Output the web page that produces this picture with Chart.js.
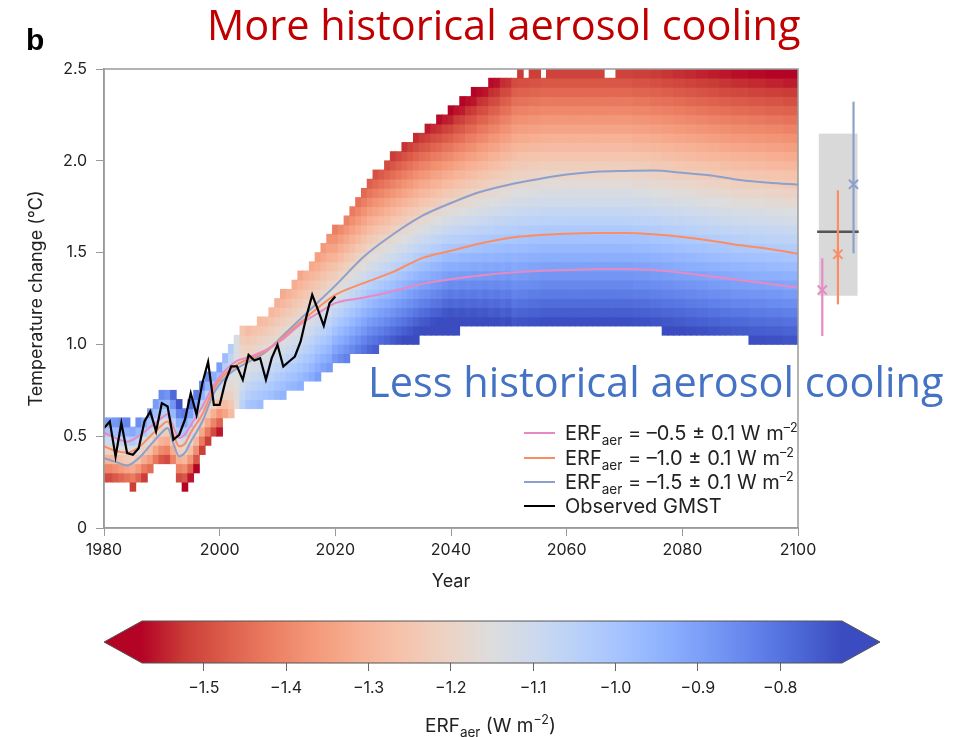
<!DOCTYPE html>
<html>
<head>
<meta charset="utf-8">
<script src="https://cdn.jsdelivr.net/npm/chart.js@4.4.1/dist/chart.umd.min.js"></script>
<style>
  body { margin: 0; background: #fff; }
  #page { position: relative; width: 955px; height: 737px; overflow: hidden; font-family: Inter, sans-serif; color: #222; }
  canvas { position: absolute; left: 0; }
  #main { top: 0; }
  #cbar { top: 600px; }
  .big { position: absolute; font-family: "Open Sans", sans-serif; font-size: 41.5px; line-height: 40px; white-space: nowrap; }
  .panel { position: absolute; left: 26px; top: 25px; font-family: "Liberation Sans", Arial, sans-serif; font-weight: bold; font-size: 30px; line-height: 30px; color: #000; }
  .leg { position: absolute; left: 565px; font-size: 20px; line-height: 20px; white-space: nowrap; color: #222; }
  .swatch { position: absolute; left: 524px; width: 31px; height: 2px; }
  .sub { font-size: 13.5px; position: relative; top: 5px; }
  .sup { font-size: 12.5px; position: relative; top: -8px; }
  .cbtitle { position: absolute; left: 425px; top: 716px; font-size: 19px; line-height: 19px; white-space: nowrap; color: #222; }
</style>
</head>
<body>
<div id="page">
  <canvas id="main" width="955" height="600"></canvas>
  <canvas id="cbar" width="955" height="137"></canvas>

  <div class="panel">b</div>
  <div class="big" style="left:207px; top:4px; color:#c00000;">More historical aerosol cooling</div>
  <div class="big" style="left:368px; top:361px; color:#4472c4;">Less historical aerosol cooling</div>

  <div class="swatch" style="top:432px; background:#e78ac3;"></div>
  <div class="leg" style="top:423px;">ERF<span class="sub">aer</span> = –0.5 ± 0.1 W m<span class="sup">–2</span></div>
  <div class="swatch" style="top:457px; background:#fc8d62;"></div>
  <div class="leg" style="top:448px;">ERF<span class="sub">aer</span> = –1.0 ± 0.1 W m<span class="sup">–2</span></div>
  <div class="swatch" style="top:481px; background:#8da0cb;"></div>
  <div class="leg" style="top:472px;">ERF<span class="sub">aer</span> = –1.5 ± 0.1 W m<span class="sup">–2</span></div>
  <div class="swatch" style="top:505px; background:#000;"></div>
  <div class="leg" style="top:496px;">Observed GMST</div>

  <div class="cbtitle">ERF<span class="sub">aer</span> (W m<span class="sup">−2</span>)</div>
</div>

<script>
// ---- values ----
const firstYear = 1980;
const lastYear = 2100;
const binWidth = 0.05; // height of one heatmap cell, °C

// lowest / highest cell edge of each yearly column, as [value, number of years]
const bandLowRuns = [[0.25,5],[0.20,1],[0.25,2],[0.30,1],[0.35,4],[0.25,1],[0.20,1],[0.25,1],[0.30,1],
  [0.40,1],[0.45,1],[0.50,2],[0.60,2],[0.65,5],[0.70,4],[0.75,3],[0.80,3],[0.85,2],[0.90,3],[0.95,5],
  [1.00,7],[1.05,7],[1.10,35],[1.05,15],[1.00,9]];
const bandHighRuns = [[0.60,5],[0.55,1],[0.60,2],[0.65,1],[0.70,1],[0.75,3],[0.70,1],[0.65,1],[0.70,1],
  [0.75,1],[0.80,1],[0.85,2],[0.90,1],[0.95,1],[1.00,1],[1.05,1],[1.10,3],[1.15,2],[1.20,1],[1.25,1],
  [1.30,2],[1.35,1],[1.40,2],[1.45,1],[1.50,1],[1.55,1],[1.60,1],[1.65,2],[1.70,1],[1.75,1],[1.80,1],
  [1.85,1],[1.90,1],[1.95,2],[2.00,1],[2.05,2],[2.10,2],[2.15,2],[2.20,2],[2.25,2],[2.30,2],[2.35,2],
  [2.40,3],[2.45,5],[2.50,1],[2.45,1],[2.50,2],[2.45,1],[2.50,10],[2.45,2],[2.50,32]];

// temperature (°C) where a column's mean ERF_aer is the grey middle of the colour bar, 1980..2100
const midTemp = [
  0.45,0.45,0.44,0.43,0.42,0.41,0.43,0.46,0.49,0.53,
  0.56,0.57,0.52,0.46,0.45,0.49,0.55,0.62,0.67,0.71,
  0.74,0.78,0.81,0.84,0.87,0.89,0.91,0.93,0.95,0.97,
  1.00,1.02,1.05,1.07,1.10,1.13,1.16,1.19,1.22,1.25,
  1.28,1.31,1.34,1.37,1.40,1.43,1.46,1.48,1.50,1.52,
  1.54,1.56,1.58,1.60,1.62,1.64,1.65,1.67,1.68,1.70,
  1.71,1.72,1.73,1.74,1.75,1.76,1.77,1.78,1.79,1.80,
  1.81,1.82,1.83,1.83,1.84,1.84,1.85,1.85,1.85,1.85,
  1.85,1.85,1.85,1.85,1.85,1.85,1.85,1.85,1.85,1.85,
  1.85,1.85,1.84,1.84,1.84,1.83,1.83,1.82,1.82,1.81,
  1.81,1.80,1.80,1.79,1.79,1.78,1.78,1.77,1.77,1.76,
  1.76,1.76,1.75,1.75,1.75,1.74,1.74,1.74,1.73,1.73,
  1.73];
// change of mean ERF_aer with temperature inside a column (W m-2 per °C), as runs
const erfGradRuns = [[2.0,8],[1.8,5],[1.9,7],[1.9,1],[1.2,1],[0.7,1],[0.1,1],[-0.5,1],[-0.68,8],
  [-0.66,4],[-0.70,3],[-0.77,21],[-0.74,2],[-0.71,2],[-0.68,2],[-0.65,2],[-0.62,2],[-0.58,50]];

// ensemble mean warming for the three ERF_aer groups
const curveYears = [1980,1982,1984,1986,1988,1990,1991,1992,1993,1994,1995,1997,1999,2001,2003,2005,2008,
  2011,2014,2017,2020,2025,2030,2035,2040,2045,2050,2055,2060,2065,2070,2075,2080,2085,2090,2095,2100];
const meanErf05 = [0.52,0.49,0.47,0.50,0.55,0.60,0.62,0.55,0.49,0.51,0.56,0.66,0.78,0.86,0.91,0.93,0.97,
  1.03,1.11,1.17,1.225,1.255,1.29,1.33,1.355,1.375,1.39,1.40,1.405,1.41,1.41,1.405,1.39,1.37,1.35,1.33,1.31];
const meanErf10 = [0.445,0.42,0.41,0.44,0.50,0.56,0.58,0.51,0.445,0.46,0.52,0.62,0.76,0.84,0.89,0.92,0.965,
  1.04,1.12,1.20,1.27,1.335,1.395,1.47,1.51,1.55,1.58,1.595,1.603,1.607,1.607,1.60,1.585,1.565,1.54,1.52,1.494];
const meanErf15 = [0.38,0.36,0.34,0.38,0.45,0.52,0.545,0.46,0.39,0.41,0.47,0.58,0.735,0.82,0.87,0.905,0.96,
  1.05,1.14,1.23,1.32,1.48,1.60,1.70,1.77,1.83,1.87,1.90,1.925,1.94,1.945,1.947,1.935,1.92,1.895,1.88,1.87];

// observed GMST, 1980..2020
const obsStart = 1980;
const obsGmst = [0.544,0.58,0.39,0.572,0.408,0.399,0.435,0.58,0.635,0.526,
  0.68,0.662,0.481,0.508,0.59,0.735,0.617,0.789,0.905,0.671,
  0.671,0.80,0.88,0.88,0.807,0.943,0.912,0.925,0.807,0.925,
  0.998,0.88,0.907,0.934,1.016,1.152,1.27,1.188,1.101,1.225,1.261];

// 2100 ranges drawn right of the axis
const rangeX = [2104.2, 2106.9, 2109.6];
const rangeCentral = [1.296, 1.491, 1.872];
const rangeLow = [1.046, 1.218, 1.496];
const rangeHigh = [1.469, 1.839, 2.322];
const obsBoxX = [2103.6, 2110.3];
const obsBoxY = [1.265, 2.148];
const obsLineX = [2103.3, 2110.5];
const obsLineY = 1.614;

// colour bar
const cbMin = -1.575;
const cbMax = -0.725;
const cbTicks = [-1.5, -1.4, -1.3, -1.2, -1.1, -1.0, -0.9, -0.8];

// ---- colours ----
const pink = '#e78ac3', orange = '#fc8d62', blue = '#8da0cb';
const coolwarm = [[59,76,192],[77,104,215],[98,130,234],[119,154,246],[141,176,254],[163,194,255],
  [184,208,249],[204,217,238],[221,221,221],[236,211,197],[245,196,173],[247,177,149],[244,154,123],
  [236,127,99],[222,96,77],[203,62,56],[180,4,38]];

function coolwarmAt(t) {
  t = Math.min(1, Math.max(0, t));
  const p = t * (coolwarm.length - 1);
  const i = Math.min(coolwarm.length - 2, Math.floor(p));
  const f = p - i;
  const c = coolwarm[i].map((v, k) => Math.round(v + (coolwarm[i + 1][k] - v) * f));
  return `rgb(${c[0]},${c[1]},${c[2]})`;
}
// more negative ERF is red, like the colour bar
function erfColor(erf) {
  return coolwarmAt((cbMax - erf) / (cbMax - cbMin));
}

function expand(runs) {
  const out = [];
  runs.forEach(([v, n]) => { for (let i = 0; i < n; i++) out.push(v); });
  return out;
}

const bandLow = expand(bandLowRuns);
const bandHigh = expand(bandHighRuns);
const erfGrad = expand(erfGradRuns);
const nYears = lastYear - firstYear + 1;
if (bandLow.length !== nYears || bandHigh.length !== nYears || erfGrad.length !== nYears || midTemp.length !== nYears) {
  console.warn('column arrays have wrong length');
}

// heatmap cells: one floating bar per (year, temperature bin)
const cells = [];
const cellColors = [];
for (let i = 0; i < nYears; i++) {
  const nBins = Math.round((bandHigh[i] - bandLow[i]) / binWidth);
  for (let k = 0; k < nBins; k++) {
    const b0 = bandLow[i] + k * binWidth;
    const b1 = b0 + binWidth;
    const erf = -1.15 + erfGrad[i] * ((b0 + b1) / 2 - midTemp[i]);
    cells.push({ x: firstYear + i, y: [b0, b1] });
    cellColors.push(erfColor(erf));
  }
}

const toXY = (xs, ys) => xs.map((x, i) => ({ x: x, y: ys[i] }));

Chart.defaults.font.family = 'Inter, sans-serif';
Chart.defaults.color = '#222';

// frame round the plot area
const framePlugin = {
  id: 'frame',
  afterDatasetsDraw(chart) {
    const { ctx, chartArea: a } = chart;
    ctx.save();
    ctx.strokeStyle = '#9a9a9a';
    ctx.lineWidth = 1.5;
    ctx.strokeRect(a.left, a.top, a.right - a.left, a.bottom - a.top);
    ctx.restore();
  }
};

// grey box of the observation-constrained 2100 range
const obsBoxPlugin = {
  id: 'obsBox',
  beforeDatasetsDraw(chart) {
    const { ctx, scales: { x, y } } = chart;
    const l = x.getPixelForValue(obsBoxX[0]), r = x.getPixelForValue(obsBoxX[1]);
    const t = y.getPixelForValue(obsBoxY[1]), b = y.getPixelForValue(obsBoxY[0]);
    ctx.save();
    ctx.fillStyle = '#d9d9d9';
    ctx.fillRect(l, t, r - l, b - t);
    ctx.restore();
  }
};

const rangeColors = [pink, orange, blue];

// central 2100 estimates (outside the plot area, where Chart.js skips points)
const rangeMarkPlugin = {
  id: 'rangeMarks',
  afterDatasetsDraw(chart) {
    const { ctx, scales: { x, y } } = chart;
    ctx.save();
    ctx.lineWidth = 2;
    rangeX.forEach((xv, i) => {
      const px = x.getPixelForValue(xv), py = y.getPixelForValue(rangeCentral[i]);
      ctx.strokeStyle = rangeColors[i];
      ctx.fillStyle = rangeColors[i];
      if (Chart.helpers && Chart.helpers.drawPoint) {
        Chart.helpers.drawPoint(ctx, { pointStyle: 'crossRot', radius: 6.5, borderWidth: 2, rotation: 0 }, px, py);
      } else {
        const d = 4.6;
        ctx.beginPath();
        ctx.moveTo(px - d, py - d); ctx.lineTo(px + d, py + d);
        ctx.moveTo(px - d, py + d); ctx.lineTo(px + d, py - d);
        ctx.stroke();
      }
    });
    ctx.restore();
  }
};

const rangeSets = rangeX.map((xv, i) => ({
  type: 'line', data: [{ x: xv, y: rangeLow[i] }, { x: xv, y: rangeHigh[i] }],
  borderColor: rangeColors[i], borderWidth: 2.2, pointRadius: 0, clip: false, order: 1
}));

new Chart(document.getElementById('main'), {
  type: 'bar',
  data: {
    datasets: [
      {
        label: 'ensemble members', data: cells, backgroundColor: cellColors,
        borderWidth: 0, barPercentage: 1, categoryPercentage: 1, grouped: false,
        inflateAmount: 0.4, clip: 0, order: 10
      },
      { type: 'line', label: 'ERF -0.5', data: toXY(curveYears, meanErf05), borderColor: pink, borderWidth: 2,
        pointRadius: 0, cubicInterpolationMode: 'monotone', order: 4 },
      { type: 'line', label: 'ERF -1.0', data: toXY(curveYears, meanErf10), borderColor: orange, borderWidth: 2,
        pointRadius: 0, cubicInterpolationMode: 'monotone', order: 4 },
      { type: 'line', label: 'ERF -1.5', data: toXY(curveYears, meanErf15), borderColor: blue, borderWidth: 2,
        pointRadius: 0, cubicInterpolationMode: 'monotone', order: 4 },
      { type: 'line', label: 'Observed GMST', data: obsGmst.map((v, i) => ({ x: obsStart + i, y: v })),
        borderColor: '#000', borderWidth: 2.2, pointRadius: 0, order: 3 },
      { type: 'line', data: [{ x: obsLineX[0], y: obsLineY }, { x: obsLineX[1], y: obsLineY }],
        borderColor: '#555', borderWidth: 2.5, pointRadius: 0, clip: false, order: 2 },
      ...rangeSets
    ]
  },
  options: {
    responsive: false,
    animation: false,
    events: [],
    layout: { padding: { left: 0, right: 157, top: 69, bottom: 0 } },
    plugins: { legend: { display: false }, tooltip: { enabled: false } },
    scales: {
      x: {
        type: 'linear', min: firstYear, max: lastYear, offset: false,
        afterFit: s => { s.height = 72; },
        ticks: { stepSize: 20, padding: 5, font: { size: 16 }, color: '#222', callback: v => String(v) },
        grid: { display: true, drawOnChartArea: false, drawTicks: true, tickLength: 8, offset: false, color: '#9a9a9a' },
        border: { display: true, color: '#9a9a9a', width: 1.5 },
        title: { display: true, text: 'Year', font: { size: 18 }, color: '#222', padding: { top: 0, bottom: 8 } }
      },
      y: {
        min: 0, max: 2.5,
        afterFit: s => { s.width = 104; },
        ticks: { stepSize: 0.5, padding: 9, font: { size: 16 }, color: '#222',
          callback: v => (v === 0 ? '0' : v.toFixed(1)) },
        grid: { display: true, drawOnChartArea: false, drawTicks: true, tickLength: 8, color: '#9a9a9a' },
        border: { display: true, color: '#9a9a9a', width: 1.5 },
        title: { display: true, text: 'Temperature change (°C)', font: { size: 18 }, color: '#222', padding: { top: 26, bottom: 0 } }
      }
    }
  },
  plugins: [obsBoxPlugin, framePlugin, rangeMarkPlugin]
});

// colour bar with triangular ends
const colorbarPlugin = {
  id: 'colorbar',
  beforeDatasetsDraw(chart) {
    const { ctx, chartArea: a, scales: { x } } = chart;
    const x0 = x.getPixelForValue(cbMin), x1 = x.getPixelForValue(cbMax);
    const mid = (a.top + a.bottom) / 2;
    const ext = 38;
    const grad = ctx.createLinearGradient(x0, 0, x1, 0);
    coolwarm.forEach((c, i) => {
      grad.addColorStop(1 - i / (coolwarm.length - 1), `rgb(${c[0]},${c[1]},${c[2]})`);
    });
    ctx.save();
    ctx.fillStyle = grad;
    ctx.fillRect(x0, a.top, x1 - x0, a.bottom - a.top);
    ctx.fillStyle = erfColor(cbMin - 1);
    ctx.beginPath(); ctx.moveTo(x0, a.top); ctx.lineTo(x0 - ext, mid); ctx.lineTo(x0, a.bottom); ctx.closePath(); ctx.fill();
    ctx.fillStyle = erfColor(cbMax + 1);
    ctx.beginPath(); ctx.moveTo(x1, a.top); ctx.lineTo(x1 + ext, mid); ctx.lineTo(x1, a.bottom); ctx.closePath(); ctx.fill();
    ctx.strokeStyle = '#555';
    ctx.lineWidth = 1;
    ctx.beginPath();
    ctx.moveTo(x0, a.top); ctx.lineTo(x1, a.top); ctx.lineTo(x1 + ext, mid); ctx.lineTo(x1, a.bottom);
    ctx.lineTo(x0, a.bottom); ctx.lineTo(x0 - ext, mid); ctx.closePath();
    ctx.stroke();
    ctx.restore();
  }
};

new Chart(document.getElementById('cbar'), {
  type: 'scatter',
  data: { datasets: [] },
  options: {
    responsive: false,
    animation: false,
    events: [],
    layout: { padding: { left: 142, right: 113, top: 21, bottom: 0 } },
    plugins: { legend: { display: false }, tooltip: { enabled: false } },
    scales: {
      x: {
        type: 'linear', min: cbMin, max: cbMax,
        afterBuildTicks: s => { s.ticks = cbTicks.map(v => ({ value: v })); },
        afterFit: s => { s.height = 74; },
        ticks: { padding: 8, font: { size: 16 }, color: '#222',
          callback: v => '−' + Math.abs(v).toFixed(1) },
        grid: { display: true, drawOnChartArea: false, drawTicks: true, tickLength: 8, color: '#666' },
        border: { display: false }
      },
      y: { display: false, min: 0, max: 1 }
    }
  },
  plugins: [colorbarPlugin]
});
</script>
</body>
</html>
